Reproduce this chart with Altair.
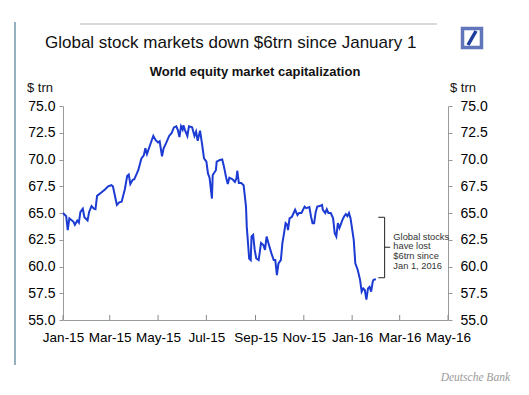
import altair as alt
import pandas as pd

# ---- data ----
dates = [
    "2015-01-01", "2015-01-05", "2015-01-07", "2015-01-09", "2015-01-14", "2015-01-16", "2015-01-19", "2015-01-21",
    "2015-01-23", "2015-01-26", "2015-01-28",
    "2015-02-01", "2015-02-03", "2015-02-06", "2015-02-09", "2015-02-11", "2015-02-13", "2015-02-18", "2015-02-23", "2015-02-27",
    "2015-03-03", "2015-03-05", "2015-03-07", "2015-03-10", "2015-03-13", "2015-03-16", "2015-03-20", "2015-03-23",
    "2015-03-25", "2015-03-27", "2015-03-30",
    "2015-04-01", "2015-04-06", "2015-04-10", "2015-04-13", "2015-04-15", "2015-04-17", "2015-04-23", "2015-04-25", "2015-04-28",
    "2015-05-01", "2015-05-03", "2015-05-06", "2015-05-08", "2015-05-11", "2015-05-15", "2015-05-18", "2015-05-21",
    "2015-05-24", "2015-05-26", "2015-05-28", "2015-05-30",
    "2015-06-01", "2015-06-02", "2015-06-04", "2015-06-07", "2015-06-09", "2015-06-13", "2015-06-16", "2015-06-18",
    "2015-06-20", "2015-06-23", "2015-06-26", "2015-06-28",
    "2015-07-01", "2015-07-03", "2015-07-05", "2015-07-08", "2015-07-09", "2015-07-13", "2015-07-14", "2015-07-18",
    "2015-07-21", "2015-07-23", "2015-07-26", "2015-07-28", "2015-07-30",
    "2015-08-03", "2015-08-06", "2015-08-08", "2015-08-09", "2015-08-11", "2015-08-14", "2015-08-17", "2015-08-20",
    "2015-08-21", "2015-08-24", "2015-08-26", "2015-08-27", "2015-08-29", "2015-08-31",
    "2015-09-02", "2015-09-05", "2015-09-08", "2015-09-11", "2015-09-13", "2015-09-15", "2015-09-18", "2015-09-21",
    "2015-09-24", "2015-09-26", "2015-09-28", "2015-09-30",
    "2015-10-03", "2015-10-05", "2015-10-07", "2015-10-09", "2015-10-11", "2015-10-12", "2015-10-14", "2015-10-17",
    "2015-10-21", "2015-10-24", "2015-10-26", "2015-10-29",
    "2015-11-02", "2015-11-04", "2015-11-08", "2015-11-10", "2015-11-12", "2015-11-14", "2015-11-16", "2015-11-18",
    "2015-11-21", "2015-11-24", "2015-11-25", "2015-11-28", "2015-11-30",
    "2015-12-02", "2015-12-05", "2015-12-08", "2015-12-10", "2015-12-12", "2015-12-14", "2015-12-16", "2015-12-20",
    "2015-12-22", "2015-12-24", "2015-12-26", "2015-12-28", "2015-12-30",
    "2016-01-03", "2016-01-05", "2016-01-08", "2016-01-11", "2016-01-13", "2016-01-15", "2016-01-17", "2016-01-19",
    "2016-01-21", "2016-01-23", "2016-01-25", "2016-01-27", "2016-01-28", "2016-01-31",
]
values = [
    65.0, 64.7, 63.4, 64.5, 64.2, 63.9, 64.3, 64.1, 65.1, 65.4, 64.6,
    64.3, 65.1, 65.65, 65.4, 65.35, 66.6, 66.9, 67.2, 67.5,
    67.6, 67.5, 66.8, 65.75, 66.0, 66.05, 67.2, 68.45, 68.6, 67.7, 68.1,
    68.15, 69.0, 70.1, 70.4, 71.05, 70.5, 71.8, 72.2, 71.8,
    71.6, 71.7, 70.3, 71.05, 71.5, 72.2, 72.45, 73.0, 73.1, 72.75, 72.1, 73.1,
    72.8, 73.2, 72.75, 72.2, 73.1, 73.0, 72.2, 72.6, 71.75, 72.7, 71.2, 70.1,
    69.8, 68.7, 68.3, 66.35, 68.55, 69.0, 69.8, 69.95, 70.0, 69.4, 68.3, 67.7, 68.3,
    68.15, 67.9, 68.25, 68.95, 67.8, 67.8, 67.6, 65.6, 63.7, 60.75, 60.6, 62.8, 62.95, 61.55,
    60.75, 60.6, 62.2, 62.0, 61.55, 62.8, 62.0, 61.25, 60.6, 60.6, 59.2, 60.3,
    60.6, 62.2, 63.1, 64.05, 63.9, 63.4, 64.5, 64.65, 65.3, 64.8, 65.0, 65.0,
    65.6, 65.45, 65.55, 64.7, 64.05, 64.05, 65.1, 65.6, 65.65, 65.75, 65.3, 65.0, 65.35,
    65.0, 65.0, 64.5, 63.1, 62.8, 64.05, 63.6, 64.4, 64.7, 64.9, 64.7, 65.0, 64.5,
    62.5, 60.3, 59.7, 58.75, 57.65, 57.95, 57.8, 56.9, 57.95, 58.1, 57.65, 58.6, 58.75, 58.8,
]
x_ticks = ["2015-01-01", "2015-03-01", "2015-05-01", "2015-07-01", "2015-09-01",
           "2015-11-01", "2016-01-01", "2016-03-01", "2016-05-01"]
y_ticks = [55.0, 57.5, 60.0, 62.5, 65.0, 67.5, 70.0, 72.5, 75.0]

# bracket annotation (dates / values)
br_x = ["2016-02-11", "2016-02-03", "2016-02-03", "2016-02-11"]
br_x2 = ["2016-02-11", "2016-02-11", "2016-02-11", "2016-02-18"]
br_y = [64.6, 64.6, 58.95, 61.8]
br_y2 = [58.95, 64.6, 58.95, 61.8]
note_lines = ["Global stocks", "have lost", "$6trn since", "Jan 1, 2016"]
note_vals = [62.8, 61.88, 60.98, 60.08]
note_date = "2016-02-22"

TITLE = "Global stock markets down $6trn since January 1"
SUBTITLE = "World equity market capitalization"
UNIT = "$ trn"
SOURCE = "Deutsche Bank"

BLUE = "#1b3bd3"
GREY = "#9a9a9a"
FONT = "Liberation Sans"

W, H = 385, 214


def loc(d):
    return d + "T00:00:00"


df = pd.DataFrame({"date": [loc(d) for d in dates], "value": values})
tick_df = pd.DataFrame({"date": [loc(d) for d in x_ticks]})
br_df = pd.DataFrame({"x": [loc(d) for d in br_x], "x2": [loc(d) for d in br_x2], "y": br_y, "y2": br_y2})
note_df = pd.DataFrame({"date": [loc(note_date)] * 4, "value": note_vals, "t": note_lines})
one = pd.DataFrame({"k": [0]})

x_dom = [alt.DateTime(year=2015, month=1, date=1), alt.DateTime(year=2016, month=5, date=1)]
x_vals = [alt.DateTime(year=int(d[:4]), month=int(d[5:7]), date=1) for d in x_ticks]
yscale = alt.Scale(domain=[55, 75], nice=False, zero=False)

X = alt.X(
    "date:T",
    title=None,
    scale=alt.Scale(domain=x_dom),
    axis=alt.Axis(values=x_vals, format="%b-%y", ticks=False, tickSize=0, labelPadding=10,
                  labelFontSize=13.5, labelFont=FONT, labelColor="#000", domainColor=GREY,
                  grid=False, labelFlush=False, labelOverlap=False),
)

yaxis_common = dict(values=y_ticks, format=".1f", title=None, grid=False, tickSize=4,
                    tickColor=GREY, domainColor=GREY, labelFontSize=14, labelFont=FONT,
                    labelColor="#000", labelOverlap=False, labelFlush=False)

line = alt.Chart(df).mark_line(color=BLUE, strokeWidth=2).encode(
    x=X,
    y=alt.Y("value:Q", scale=yscale, axis=alt.Axis(orient="left", labelPadding=4, **yaxis_common)),
)
right = alt.Chart(df).mark_line(opacity=0).encode(
    x=X,
    y=alt.Y("value:Q", scale=yscale, axis=alt.Axis(orient="right", labelPadding=8, **yaxis_common)),
)
xticks = alt.Chart(tick_df).mark_rule(color="#888", strokeWidth=1).encode(
    x=X, y=alt.value(H - 5), y2=alt.value(H)
)
bracket = alt.Chart(br_df).mark_rule(color="#222", strokeWidth=1).encode(
    x=alt.X("x:T", title=None, scale=alt.Scale(domain=x_dom)),
    x2="x2:T",
    y=alt.Y("y:Q", scale=yscale, axis=None),
    y2="y2:Q",
)
note = alt.Chart(note_df).mark_text(align="left", baseline="middle", fontSize=9.3, font=FONT, color="#333").encode(
    x=alt.X("date:T", title=None, scale=alt.Scale(domain=x_dom)),
    y=alt.Y("value:Q", scale=yscale, axis=None),
    text="t:N",
)


def label(text, x, y, size, align="left", weight="normal", style="normal", font=FONT, color="#111"):
    return alt.Chart(one).mark_text(align=align, baseline="middle", fontSize=size, fontWeight=weight,
                                    fontStyle=style, font=font, color=color).encode(
        x=alt.value(x), y=alt.value(y), text=alt.value(text))


title = label(TITLE, -18, -63, 17, color="#111")
subtitle = label(SUBTITLE, 192, -34, 13, align="center", weight="bold")
unit_l = label(UNIT, -36, -18, 13)
unit_r = label(UNIT, 387, -18, 13)
source = label(SOURCE, 447, 272, 11.5, align="right", style="italic", font="Liberation Serif", color="#9a9a9a")

top_line = alt.Chart(one).mark_rule(color="#dcdad6", strokeWidth=2).encode(
    x=alt.value(17), x2=alt.value(374), y=alt.value(-82))
side_line = alt.Chart(one).mark_rule(color="#7396ab", strokeWidth=1.5).encode(
    x=alt.value(-48), y=alt.value(-84), y2=alt.value(259))
logo_box = alt.Chart(one).mark_square(filled=False, stroke="#1f3d9e", strokeWidth=3.5, size=360).encode(
    x=alt.value(409), y=alt.value(-68))
logo_slash = alt.Chart(one).mark_rule(color="#1f3d9e", strokeWidth=3.5).encode(
    x=alt.value(405), x2=alt.value(413), y=alt.value(-61), y2=alt.value(-75))

chart = alt.layer(
    line, right, xticks, bracket, note,
    title, subtitle, unit_l, unit_r, source, top_line, side_line, logo_box, logo_slash,
).resolve_axis(y="independent").properties(
    width=W, height=H,
    autosize=alt.AutoSizeParams(type="none"),
    padding={"left": 55, "top": 98, "right": 73, "bottom": 67},
    background="white",
).configure_view(stroke=None)

chart.save("out.html", embed_options={"renderer": "svg", "actions": False})
